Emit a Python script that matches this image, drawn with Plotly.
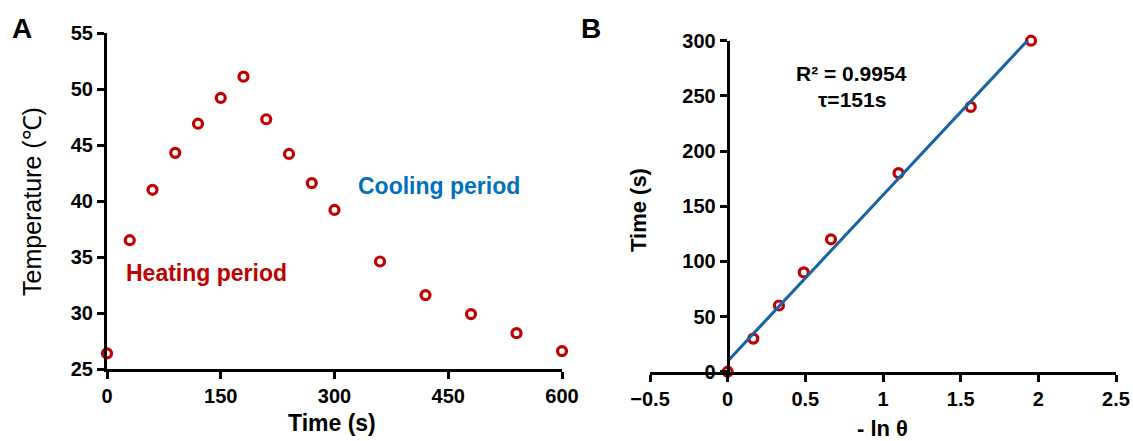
import numpy as np
import plotly.graph_objects as go

# ---- Data: panel A (temperature vs time) ----
time_a = [0, 30, 60, 90, 120, 150, 180, 210, 240, 270, 300, 360, 420, 480, 540, 600]
temp_a = [26.4, 36.5, 41.0, 44.3, 46.9, 49.2, 51.1, 47.3, 44.2, 41.6, 39.2, 34.6, 31.6, 29.9, 28.2, 26.6]

# ---- Data: panel B (time vs -ln theta) ----
neg_ln_theta = [0, 0.165, 0.33, 0.49, 0.665, 1.10, 1.565, 1.953]
time_b = [0, 30, 60, 90, 120, 180, 240, 300]

ticks_a_x = [0, 150, 300, 450, 600]
ticks_a_y = [25, 30, 35, 40, 45, 50, 55]
ticks_b_x = [-0.5, 0, 0.5, 1, 1.5, 2, 2.5]
ticks_b_y = [0, 50, 100, 150, 200, 250, 300]

RED = "#C00000"
BLUE_TXT = "#0070C0"
LINE_BLUE = "#1763A6"
FONT = "Liberation Sans"

W, H = 1133, 441

# trendline (least squares fit of panel B data)
slope, intercept = np.polyfit(neg_ln_theta, time_b, 1)
fit_x = [0, max(neg_ln_theta)]
fit_y = [intercept + slope * v for v in fit_x]

fig = go.Figure()

marker = dict(symbol="circle-open", size=9, color=RED, line=dict(width=3.2, color=RED))

fig.add_trace(go.Scatter(x=time_a, y=temp_a, mode="markers", marker=marker,
                         xaxis="x", yaxis="y", cliponaxis=False, showlegend=False))
fig.add_trace(go.Scatter(x=neg_ln_theta, y=time_b, mode="markers", marker=marker,
                         xaxis="x2", yaxis="y2", cliponaxis=False, showlegend=False))
fig.add_trace(go.Scatter(x=fit_x, y=fit_y, mode="lines", line=dict(color=LINE_BLUE, width=3),
                         xaxis="x2", yaxis="y2", cliponaxis=False, showlegend=False))

tickfont = dict(family=FONT, size=20, color="black", weight="bold")
axis_common = dict(showgrid=False, zeroline=False, showline=True, linecolor="black", linewidth=3,
                   ticks="outside", ticklen=7, tickwidth=3, tickcolor="black", tickfont=tickfont,
                   automargin=False)

# pixel-based domains
xa = [107 / W, 562 / W]
ya = [1 - 369 / H, 1 - 33 / H]
xb = [650 / W, 1116 / W]
yb = [1 - 371.7 / H, 1 - 40.7 / H]
yb_pos = xb[0] + (0 - (-0.5)) / 3.0 * (xb[1] - xb[0])

fig.update_layout(
    template="none",
    width=W, height=H,
    margin=dict(l=0, r=0, t=0, b=0, pad=0, autoexpand=False),
    paper_bgcolor="white", plot_bgcolor="rgba(0,0,0,0)",
    xaxis=dict(domain=xa, range=[0, 600], tickvals=ticks_a_x, anchor="y", **axis_common),
    yaxis=dict(domain=ya, range=[25, 55], tickvals=ticks_a_y, anchor="x", **axis_common),
    xaxis2=dict(domain=xb, range=[-0.5, 2.5], tickvals=ticks_b_x, anchor="y2",
                tickformat="~g", **axis_common),
    yaxis2=dict(domain=yb, range=[0, 300], tickvals=ticks_b_y, anchor="free",
                position=yb_pos, **axis_common),
)

def ann(text, x, y, size, color="black", bold=True, angle=0):
    fig.add_annotation(text=text, x=x / W, y=1 - y / H, xref="paper", yref="paper",
                       showarrow=False, textangle=angle, xanchor="center", yanchor="middle",
                       font=dict(family=FONT, size=size, color=color,
                                 weight="bold" if bold else "normal"))

ann("A", 22, 28, 28)
ann("B", 591, 28, 28)
ann("Temperature (℃)", 32, 202, 25, bold=False, angle=-90)
ann("Time (s)", 332, 423, 23)
ann("Time (s)", 638, 210, 22, bold=True, angle=-90)
ann("- ln θ", 882, 428, 22)
ann("Heating period", 206, 273, 23, color=RED)
ann("Cooling period", 439, 186, 23, color=BLUE_TXT)
ann("R² = 0.9954", 852, 73, 21)
ann("τ=151s", 852, 100, 21)

fig.write_html("out.html", config={"displayModeBar": False},
               post_script="document.body.style.margin='0px';document.body.style.overflow='hidden';")
